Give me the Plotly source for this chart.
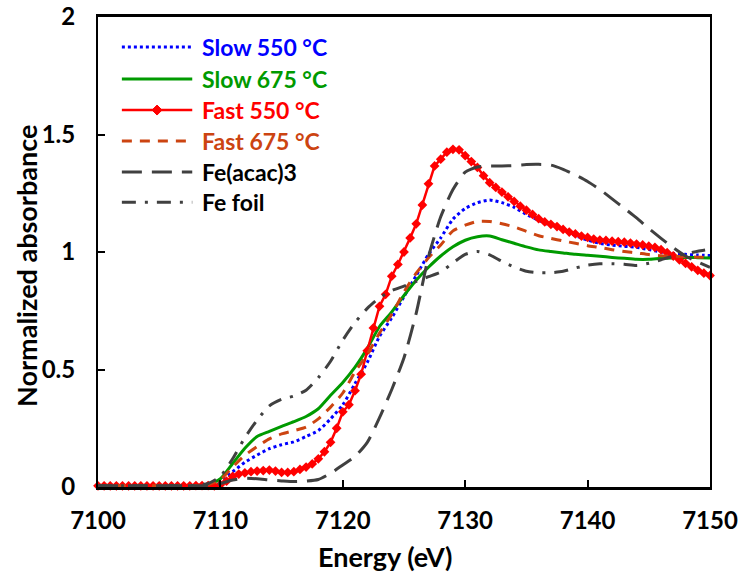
import plotly.graph_objects as go

# Energy grids (eV)
E_fast550 = [7100 + 0.5 * i for i in range(101)]
E_1eV = list(range(7100, 7151))

fast550 = [0.005, 0.005, 0.005, 0.005, 0.005, 0.005, 0.005, 0.005, 0.005, 0.005,
           0.005, 0.005, 0.005, 0.005, 0.005, 0.005, 0.006, 0.006, 0.006, 0.005,
           0.010, 0.025, 0.045, 0.055, 0.060, 0.065, 0.068, 0.070, 0.072, 0.068,
           0.062, 0.062, 0.065, 0.075, 0.085, 0.098, 0.120, 0.150, 0.190, 0.250,
           0.320, 0.350, 0.410, 0.480, 0.580, 0.677, 0.769, 0.820, 0.897, 0.947,
           1.000, 1.060, 1.120, 1.200, 1.290, 1.366, 1.395, 1.425, 1.437, 1.435,
           1.410, 1.385, 1.360, 1.325, 1.295, 1.275, 1.255, 1.235, 1.215, 1.195,
           1.178, 1.160, 1.142, 1.128, 1.118, 1.108, 1.096, 1.085, 1.077, 1.068,
           1.062, 1.055, 1.051, 1.049, 1.046, 1.044, 1.042, 1.038, 1.034, 1.030,
           1.025, 1.020, 1.010, 0.997, 0.983, 0.967, 0.952, 0.937, 0.922, 0.910,
           0.900]

slow550 = [0.005, 0.005, 0.005, 0.005, 0.005, 0.005, 0.005, 0.005, 0.006, 0.010,
           0.030, 0.065, 0.105, 0.136, 0.163, 0.180, 0.192, 0.215, 0.240, 0.290,
           0.350, 0.440, 0.530, 0.641, 0.720, 0.810, 0.900, 0.990, 1.060, 1.140,
           1.185, 1.210, 1.221, 1.210, 1.190, 1.160, 1.135, 1.113, 1.092, 1.070,
           1.050, 1.037, 1.029, 1.024, 1.020, 1.010, 1.000, 0.994, 0.990, 0.987,
           0.985]

slow675 = [0.005, 0.005, 0.005, 0.005, 0.005, 0.005, 0.005, 0.005, 0.006, 0.012,
           0.035, 0.100, 0.165, 0.215, 0.237, 0.258, 0.278, 0.300, 0.333, 0.390,
           0.445, 0.510, 0.590, 0.683, 0.745, 0.815, 0.880, 0.935, 0.983, 1.022,
           1.050, 1.065, 1.068, 1.052, 1.037, 1.022, 1.009, 1.002, 0.996, 0.990,
           0.986, 0.982, 0.977, 0.973, 0.969, 0.969, 0.973, 0.975, 0.977, 0.976,
           0.975]

fast675 = [0.005, 0.005, 0.005, 0.005, 0.005, 0.005, 0.005, 0.005, 0.006, 0.010,
           0.032, 0.085, 0.135, 0.172, 0.205, 0.226, 0.240, 0.255, 0.290, 0.340,
           0.400, 0.490, 0.565, 0.655, 0.735, 0.830, 0.910, 0.975, 1.030, 1.090,
           1.114, 1.130, 1.130, 1.120, 1.107, 1.088, 1.069, 1.058, 1.047, 1.037,
           1.027, 1.019, 1.010, 1.002, 0.996, 0.989, 0.984, 0.982, 0.980, 0.978,
           0.977]

feacac3 = [0.005, 0.005, 0.005, 0.005, 0.005, 0.005, 0.005, 0.005, 0.005, 0.008,
           0.015, 0.030, 0.037, 0.035, 0.030, 0.026, 0.023, 0.025, 0.032, 0.058,
           0.094, 0.130, 0.190, 0.295, 0.415, 0.550, 0.740, 0.980, 1.150, 1.266,
           1.340, 1.362, 1.366, 1.366, 1.368, 1.372, 1.373, 1.370, 1.352, 1.328,
           1.300, 1.266, 1.226, 1.186, 1.145, 1.100, 1.058, 1.018, 0.983, 0.958,
           0.935]

fefoil = [0.005, 0.005, 0.005, 0.005, 0.005, 0.005, 0.005, 0.005, 0.007, 0.015,
          0.045, 0.120, 0.210, 0.285, 0.345, 0.373, 0.387, 0.412, 0.465, 0.535,
          0.625, 0.700, 0.760, 0.805, 0.836, 0.855, 0.875, 0.895, 0.915, 0.954,
          0.990, 1.002, 0.988, 0.960, 0.936, 0.918, 0.912, 0.912, 0.918, 0.932,
          0.944, 0.950, 0.950, 0.948, 0.943, 0.952, 0.967, 0.982, 0.992, 1.003,
          1.012]

names = ["Slow 550 °C", "Slow 675 °C", "Fast 550 °C", "Fast 675 °C", "Fe(acac)3", "Fe foil"]
colors = ["#0000FF", "#009A00", "#FF0000", "#CC4411", "#404040", "#404040"]
text_colors = ["#0000FF", "#009A00", "#FF0000", "#CC4411", "#000000", "#000000"]
dashes = ["dot", "solid", "solid", "10px,8px", "20px,10px", "14px,9px,3px,9px"]
widths = [3, 3, 2.5, 3, 3, 3]

x_title = "Energy (eV)"
y_title = "Normalized absorbance"

FONT = "Lato"

fig = go.Figure()

series = [(E_1eV, slow550), (E_1eV, slow675), (E_fast550, fast550),
          (E_1eV, fast675), (E_1eV, feacac3), (E_1eV, fefoil)]

for i, (xs, ys) in enumerate(series):
    if i == 2:
        fig.add_trace(go.Scatter(x=xs, y=ys, name=names[i], mode="lines+markers",
                                 line=dict(color=colors[i], width=widths[i]),
                                 marker=dict(symbol="diamond", size=7.5, color=colors[i]),
                                 cliponaxis=False, showlegend=False))
    else:
        fig.add_trace(go.Scatter(x=xs, y=ys, name=names[i], mode="lines",
                                 line=dict(color=colors[i], width=widths[i], dash=dashes[i],
                                           shape="spline", smoothing=0.6),
                                 showlegend=False))

# Legend drawn as layout decoration (paper coordinates)
leg_x0, leg_x1, leg_tx = 0.039, 0.154, 0.167
leg_rows = [0.936, 0.868, 0.802, 0.736, 0.670, 0.606]
shapes = []
annotations = []
for i in range(6):
    yy = leg_rows[i]
    shapes.append(dict(type="line", xref="paper", yref="paper", x0=leg_x0, x1=leg_x1, y0=yy, y1=yy,
                       line=dict(color=colors[i], width=widths[i], dash=dashes[i])))
    annotations.append(dict(xref="paper", yref="paper", x=leg_tx, y=yy, xanchor="left", yanchor="middle",
                            showarrow=False, text=f"<b>{names[i]}</b>",
                            font=dict(family=FONT, size=23, color=text_colors[i])))
# diamond marker on the Fast 550 legend line
shapes.append(dict(type="path", xref="paper", yref="paper", xsizemode="pixel", ysizemode="pixel",
                   xanchor=(leg_x0 + leg_x1) / 2, yanchor=leg_rows[2],
                   path="M-5,0 L0,5 L5,0 L0,-5 Z", fillcolor=colors[2], line=dict(color=colors[2], width=1)))

# axis titles
annotations.append(dict(xref="paper", yref="paper", x=0.47, y=-0.147, xanchor="center", yanchor="middle",
                        showarrow=False, text=f"<b>{x_title}</b>",
                        font=dict(family=FONT, size=27, color="black")))
annotations.append(dict(xref="paper", yref="paper", x=-0.118, y=0.47, xanchor="center", yanchor="middle",
                        showarrow=False, textangle=-90, text=f"<b>{y_title}</b>",
                        font=dict(family=FONT, size=27, color="black")))

fig.update_layout(
    width=738, height=573,
    margin=dict(l=98, r=28, t=17, b=86),
    paper_bgcolor="white", plot_bgcolor="white",
    font=dict(family=FONT, size=21, color="black"),
    showlegend=False,
    shapes=shapes,
    annotations=annotations,
    xaxis=dict(range=[7100, 7150], tickvals=[7100, 7110, 7120, 7130, 7140, 7150],
               ticks="inside", ticklen=7, tickwidth=2, tickcolor="black",
               showline=True, linecolor="black", linewidth=3, mirror=True,
               showgrid=False, zeroline=False, automargin=False, ticklabelstandoff=10,
               tickfont=dict(family=FONT, size=24, color="black", weight="bold")),
    yaxis=dict(range=[0, 2], tickvals=[0, 0.5, 1, 1.5, 2], ticktext=["0", "0.5", "1", "1.5", "2"],
               ticks="inside", ticklen=7, tickwidth=2, tickcolor="black",
               showline=True, linecolor="black", linewidth=2, mirror=True,
               showgrid=False, zeroline=False, automargin=False, ticklabelstandoff=16,
               tickfont=dict(family=FONT, size=24, color="black", weight="bold")),
)

fig.write_html("out.html")
